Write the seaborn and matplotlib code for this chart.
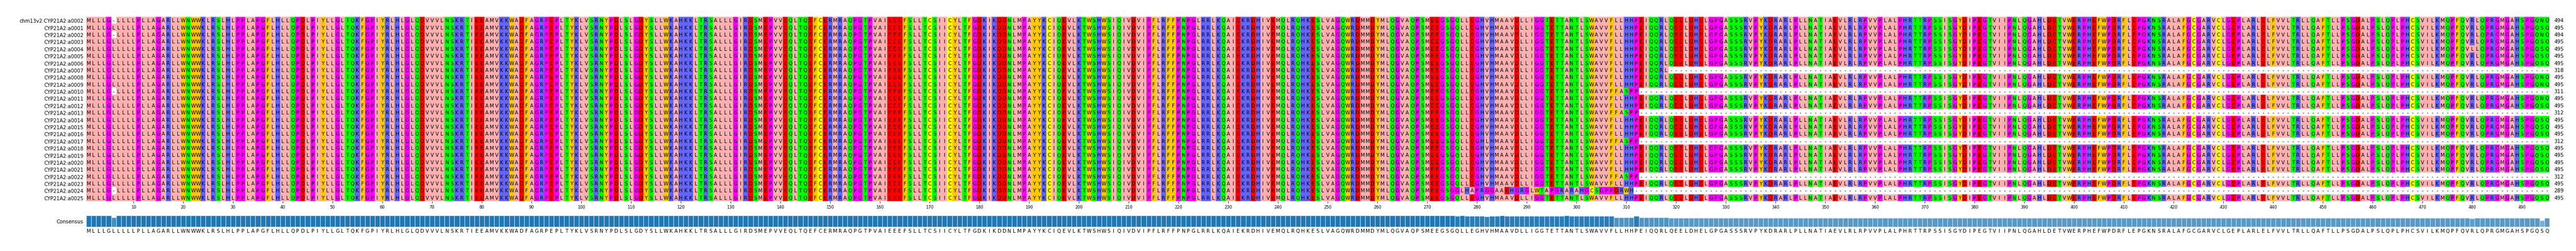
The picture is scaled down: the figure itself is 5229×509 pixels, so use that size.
import numpy as np
import matplotlib
matplotlib.use("Agg")
import matplotlib.pyplot as plt
from matplotlib.colors import ListedColormap, to_rgb
import seaborn as sns

consensus = ("MLLLGLLLLLPLLAGARLLWNWWKLRSLHLPPLAPGFLHLLQPDLPIYLLGLTQKFGPIYRLHLGLQDVVVLNSKRTIEEAMVKKWADFAGRPEPLTYKLVSRNYPD"
             "LSLGDYSLLWKAHKKLTRSALLLGIRDSMEPVVEQLTQEFCERMRAQPGTPVAIEEEFSLLTCSIICYLTFGDKIKDDNLMPAYYKCIQEVLKTWSHWSIQIVDVI"
             "PFLRFFPNPGLRRLKQAIEKRDHIVEMQLRQHKESLVAGQWRDMMDYMLQGVAQPSMEEGSGQLLEGHVHMAAVDLLIGGTETTANTLSWAVVFLLHHPEIQQRLQE"
             "ELDHELGPGASSSRVPYKDRARLPLLNATIAEVLRLRPVVPLALPHRTTRPSSISGYDIPEGTVIIPNLQGAHLDETVWERPHEFWPDRFLEPGKNSRALAFGCGAR"
             "VCLGEPLARLELFVVLTRLLQAFTLLPSGDALPSLQPLPHCSVILKMQPFQVRLQPRGMGAHSPGQSQ")

names = ["chm13v2:CYP21A2:a0002"] + ["CYP21A2:a%04d" % i for i in range(1, 26)]
lengths = [494, 495, 494, 495, 495, 495, 495, 318, 495, 495, 311, 495, 495,
           312, 495, 495, 495, 312, 495, 495, 495, 495, 312, 495, 289, 495]
gap6_rows = [0, 2, 10, 24]
qnq_rows = [0, 2, 8, 9, 11]
short_rows = [10, 13, 17, 22]       # frameshift ...FFASPP then gaps
cut_row = 7                         # ends at ...QQRL
shift_row = 24
shift_seq = "GLHAPRGGAAEHGRGLWTAPGRARAHGCSGPPDRWH"
vh_rows = [17, 24]

zappo = {"LAIVM": "#ffafaf", "GP": "#ff00ff", "RKH": "#6464ff", "WFY": "#ffc800",
         "NQST": "#00ff00", "C": "#ffff00", "DE": "#ff0000"}

n = len(consensus)
seqs = []
k = consensus.find("SWAVVFLLHHPE") + 5   # index of F
for r in range(26):
    s = list(consensus)
    if r in gap6_rows:
        s[5] = "-"
    if r in qnq_rows:
        s[n - 2] = "N"
    if r == 4:
        s[479] = "L"
    if r in vh_rows:
        i = consensus.find("EGHVHM") + 3
        s[i] = "L"
    if r in short_rows:
        s[k + 1:k + 5] = list("FASP")
        s[k + 6:] = ["-"] * (n - k - 6)
    if r == cut_row:
        j = consensus.find("EIQQRLQE") + 6
        s[j:] = ["-"] * (n - j)
    if r == shift_row:
        end = k + 5
        s[end - len(shift_seq):end] = list(shift_seq)
        s[end:] = ["-"] * (n - end)
    seqs.append(s)

letters = np.array(seqs)
keys = list(zappo.keys())
codes = np.zeros(letters.shape, dtype=int)
for ci, grp in enumerate(keys):
    codes[np.isin(letters, list(grp))] = ci + 1
cmap = ListedColormap(["#ffffff"] + [zappo[g] for g in keys])

fig = plt.figure(figsize=(52.29, 5.10), dpi=100)
ax = fig.add_axes([175 / 5229, 1 - 409 / 510, 5000 / 5229, 374 / 510])
sns.heatmap(codes, ax=ax, cmap=cmap, vmin=-0.5, vmax=len(keys) + 0.5, cbar=False,
            annot=letters, fmt="", annot_kws={"size": 7.2, "color": "black"},
            xticklabels=False, yticklabels=False)
ax.set_yticks(np.arange(26) + 0.5)
ax.set_yticklabels(names, fontsize=7.3)
ax.tick_params(axis="y", length=0, pad=4)
xt = np.arange(10, n + 1, 10)
ax.set_xticks(xt - 0.5)
ax.set_xticklabels(xt, fontsize=6)
ax.tick_params(axis="x", length=3, width=0.6, pad=2)
for r, L in enumerate(lengths):
    ax.text(n + 0.9, r + 0.5, str(L), va="center", ha="left", fontsize=7.5)

# consensus identity bars
freq = np.array([(letters[:, i] == consensus[i]).mean() for i in range(n)])
base = np.array(to_rgb("#1f77b4"))
alpha = np.clip((freq - 0.3) / 0.7, 0, 1) ** 1.5 * 0.55 + 0.45
cols = [tuple(1 - a * (1 - base)) for a in alpha]
ax2 = fig.add_axes([175 / 5229, 1 - 461 / 510, 5000 / 5229, 23 / 510])
ax2.bar(np.arange(n), freq, width=1.0, color=cols, edgecolor="#cfe1ef", linewidth=0.8)
ax2.set_xlim(-0.5, n - 0.5)
ax2.set_ylim(0, 1.0)
ax2.set_xticks(np.arange(n))
ax2.set_xticklabels(list(consensus), fontsize=7.2)
ax2.tick_params(axis="x", length=0, pad=2)
ax2.set_yticks([0.5])
ax2.set_yticklabels(["Consensus"], fontsize=7.3)
ax2.tick_params(axis="y", length=0, pad=4)
for sp in ax2.spines.values():
    sp.set_visible(False)

fig.savefig("out.png", dpi=100)
